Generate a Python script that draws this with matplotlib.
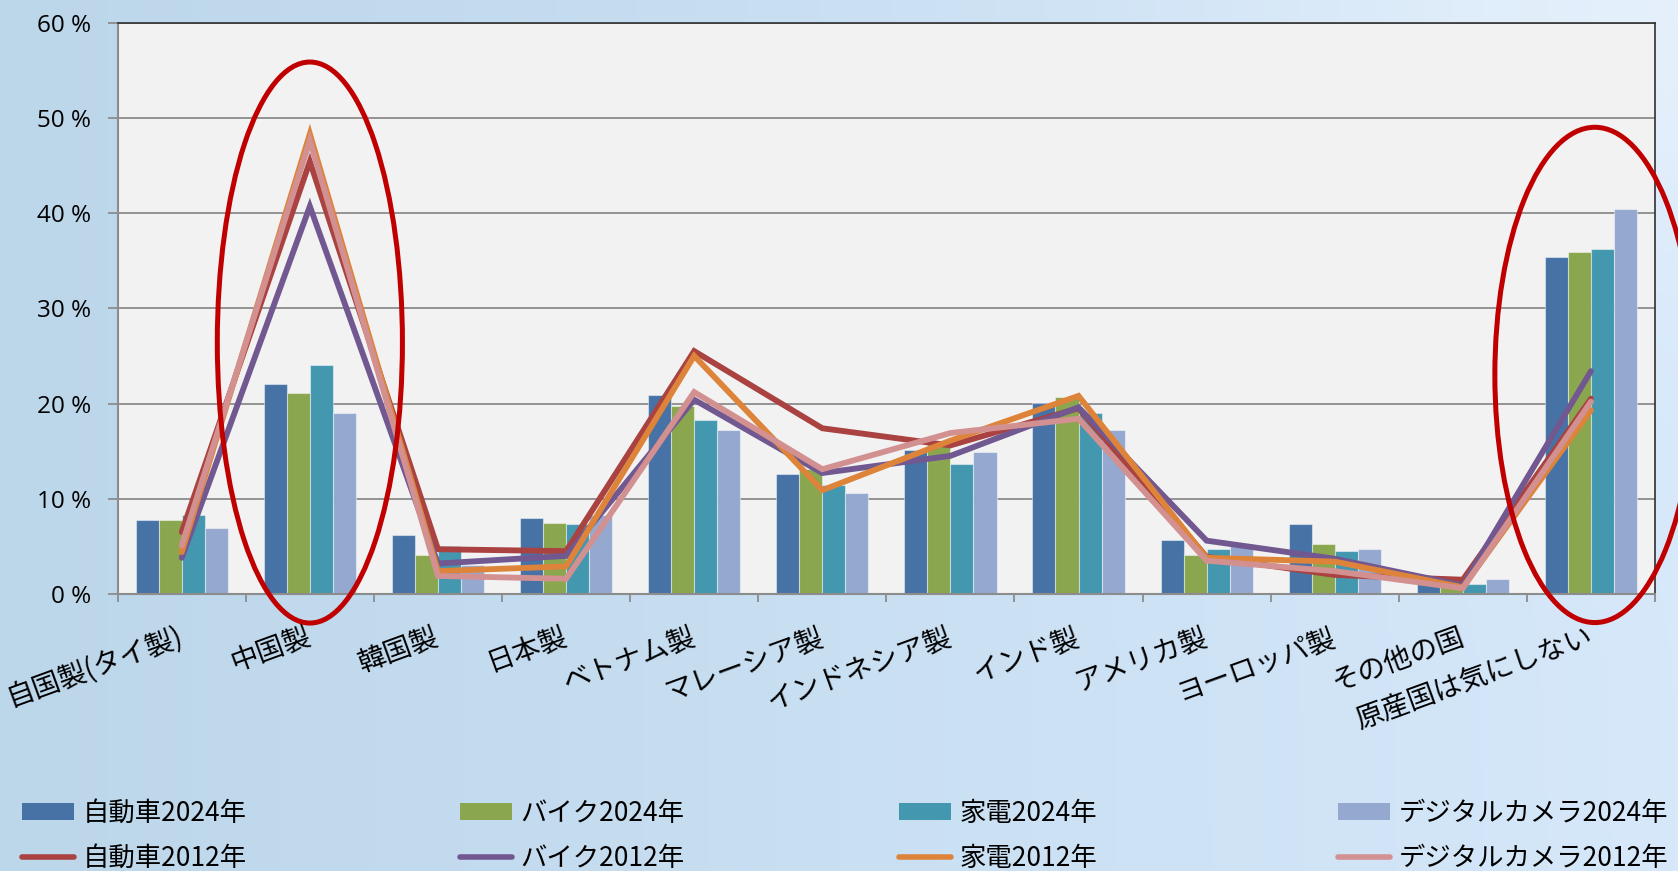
import numpy as np
import matplotlib
matplotlib.use('Agg')
import matplotlib.pyplot as plt
import matplotlib.transforms as mtransforms
from matplotlib.patches import Ellipse, Patch
from matplotlib.lines import Line2D

plt.rcParams['font.family'] = ['Noto Sans CJK JP', 'DejaVu Sans']

# ---------------- data ----------------
categories = ['自国製(タイ製)', '中国製', '韓国製', '日本製', 'ベトナム製', 'マレーシア製',
              'インドネシア製', 'インド製', 'アメリカ製', 'ヨーロッパ製', 'その他の国', '原産国は気にしない']

car_2024 = [7.8, 22.0, 6.2, 8.0, 20.9, 12.6, 15.1, 20.1, 5.7, 7.3, 1.0, 35.4]
bike_2024 = [7.8, 21.1, 4.1, 7.5, 19.7, 13.1, 15.8, 20.7, 4.1, 5.3, 0.9, 35.9]
appl_2024 = [8.3, 24.0, 5.0, 7.3, 18.3, 11.4, 13.6, 19.0, 4.7, 4.5, 1.1, 36.2]
cam_2024 = [6.9, 19.0, 3.0, 8.3, 17.2, 10.6, 14.9, 17.2, 5.3, 4.7, 1.6, 40.4]

car_2012 = [6.5, 45.4, 4.7, 4.5, 25.5, 17.4, 15.6, 19.5, 3.9, 2.0, 1.5, 20.5]
bike_2012 = [3.8, 40.7, 3.2, 4.0, 20.4, 12.7, 14.5, 19.6, 5.6, 3.7, 0.9, 23.4]
appl_2012 = [4.4, 48.3, 2.4, 2.9, 25.0, 10.9, 16.1, 20.8, 3.8, 3.4, 0.7, 19.3]
cam_2012 = [5.1, 47.6, 1.9, 1.6, 21.2, 13.1, 16.9, 18.4, 3.5, 2.4, 0.6, 20.2]

bar_labels = ['自動車2024年', 'バイク2024年', '家電2024年', 'デジタルカメラ2024年']
line_labels = ['自動車2012年', 'バイク2012年', '家電2012年', 'デジタルカメラ2012年']
y_ticks = [0, 10, 20, 30, 40, 50, 60]

bar_series = [car_2024, bike_2024, appl_2024, cam_2024]
line_series = [car_2012, bike_2012, appl_2012, cam_2012]
bar_colors = ['#4672A6', '#8AA64E', '#4398B0', '#95A9D0']
line_colors = ['#A94240', '#715891', '#DD843A', '#D39090']

# ---------------- figure ----------------
W, H = 1678, 871
fig = plt.figure(figsize=(W / 100, H / 100), dpi=100)

# background gradient
bg = fig.add_axes([0, 0, 1, 1], zorder=-10)
ny, nx = 220, 440
xx, yy = np.meshgrid(np.linspace(0, 1, nx), np.linspace(0, 1, ny))
c_left = np.array([188, 214, 234]) / 255
c_right = np.array([214, 232, 250]) / 255
img = c_left[None, None, :] + (c_right - c_left)[None, None, :] * xx[..., None]
hl = np.exp(-((xx - 1.0) ** 2 / 0.08 + (yy - 0.0) ** 2 / 0.12))
img = img + (1 - img) * 0.35 * hl[..., None]
bg.imshow(np.clip(img, 0, 1), extent=[0, 1, 0, 1], origin='upper', aspect='auto')
bg.axis('off')

# main axes
left_px, right_px, top_px, bottom_px = 117.7, 1655, 22.5, 594
ax = fig.add_axes([left_px / W, 1 - bottom_px / H, (right_px - left_px) / W, (bottom_px - top_px) / H])
ax.set_facecolor('#F2F2F2')

x = np.arange(len(categories))
bw = 0.18
offsets = (np.arange(4) - 1.5) * bw
for vals, col, off, lab in zip(bar_series, bar_colors, offsets, bar_labels):
    ax.bar(x + off, vals, width=bw, color=col, edgecolor=(1, 1, 1, 0.45), linewidth=0.8,
           zorder=2, label=lab)
for vals, col, lab in zip(line_series, line_colors, line_labels):
    ax.plot(x, vals, color=col, lw=4.2, zorder=3, solid_capstyle='round',
            solid_joinstyle='miter', label=lab)

ax.set_xlim(-0.5, len(categories) - 0.5)
ax.set_ylim(0, 60)
ax.set_yticks(y_ticks)
ax.set_yticklabels([f'{v} %' for v in y_ticks], fontsize=17.5, family=['Open Sans', 'DejaVu Sans'])
ax.yaxis.grid(True, color='#8C8C8C', lw=1.3)
ax.set_axisbelow(True)
ax.set_xticks(np.arange(-0.5, len(categories), 1.0))
ax.set_xticklabels([])
ax.tick_params(axis='y', direction='out', length=7, width=1.3, color='#8C8C8C', pad=12)
ax.tick_params(axis='x', direction='out', length=6, width=1.3, color='#8C8C8C')
for s in ['left', 'bottom']:
    ax.spines[s].set_color('#8C8C8C')
    ax.spines[s].set_linewidth(1.5)
for s in ['top', 'right']:
    ax.spines[s].set_color('#303030')
    ax.spines[s].set_linewidth(1.2)

# category labels
trans = mtransforms.blended_transform_factory(ax.transData, ax.transAxes) + \
    mtransforms.ScaledTranslation(0, -42 / 100, fig.dpi_scale_trans)
for i, lab in enumerate(categories):
    ax.text(i, 0, lab, transform=trans, rotation=20, ha='right', va='center',
            rotation_mode='anchor', fontsize=20, color='black')

# red highlight ellipses
ax.add_patch(Ellipse((1, 26.4), 1.445, 58.9, fill=False, edgecolor='#C00000', lw=3.6,
                     clip_on=False, zorder=6))
ax.add_patch(Ellipse((11.03, 23.0), 1.56, 52.0, fill=False, edgecolor='#C00000', lw=3.6,
                     clip_on=False, zorder=6))

# legend: 4 columns, each with bar (2024) and line (2012)
col_x = [21.7, 460, 899, 1338]
for j in range(4):
    handles = [Patch(facecolor=bar_colors[j], edgecolor='none'),
               Line2D([], [], color=line_colors[j], lw=4, solid_capstyle='round')]
    fig.legend(handles, [bar_labels[j], line_labels[j]], loc='center left',
               bbox_to_anchor=(col_x[j] / W, 1 - 836 / H), frameon=False, fontsize=19,
               handlelength=1.97, handleheight=0.61, handletextpad=0.33, labelspacing=0.68,
               borderpad=0, borderaxespad=0)

fig.savefig('out.png', dpi=100)
